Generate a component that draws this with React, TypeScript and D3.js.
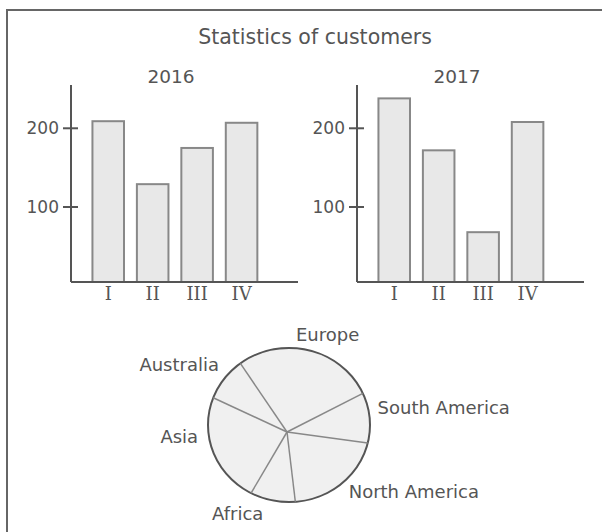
import React from "react";
import * as d3 from "d3";

const title = "Statistics of customers";
const quarters = ["I", "II", "III", "IV"];
const years = ["2016", "2017"];
const values2016 = [209, 129, 175, 207];
const values2017 = [238, 172, 68, 208];
const yTicks = [100, 200];
const regions = ["Europe", "South America", "North America", "Africa", "Asia", "Australia"];
const regionShares = [28.5, 10.5, 20, 9, 23, 9];

const W = 602;
const H = 532;
const TEXT = "#555";
const SANS = "'DejaVu Sans', Verdana, sans-serif";
const SERIF = "'DejaVu Serif', serif";

// label nudges (styling only)
const LABEL_NUDGE: Record<string, [number, number]> = {
  Europe: [15, 4],
  "South America": [-6, -7],
  "North America": [-2, -8],
  Africa: [-32, -6],
  Asia: [-2, -19],
  Australia: [6, 1],
};

function BarPanel({ x0, yearLabel, values }: { x0: number; yearLabel: string; values: number[] }) {
  const baseY = 282;
  const y = d3.scaleLinear().domain([0, 255]).range([285.7, 85]);
  const x = d3
    .scaleBand<string>()
    .domain(quarters)
    .range([x0 + 15, x0 + 15 + 177.8])
    .paddingInner(0.29)
    .paddingOuter(0.145);
  return (
    <g>
      <text x={x0 + 100} y={83} textAnchor="middle" fontFamily={SANS} fontSize={18.5} fill={TEXT}>
        {yearLabel}
      </text>
      {values.map((v, i) => (
        <rect
          key={i}
          x={x(quarters[i])!}
          y={y(v)}
          width={x.bandwidth()}
          height={baseY - y(v)}
          fill="#e8e8e8"
          stroke="#888"
          strokeWidth={2}
        />
      ))}
      <line x1={x0} x2={x0} y1={y(255)} y2={baseY} stroke="#555" strokeWidth={2} />
      <line x1={x0} x2={x0 + 227} y1={baseY} y2={baseY} stroke="#555" strokeWidth={2} />
      {yTicks.map((t) => (
        <g key={t}>
          <line x1={x0 - 8} x2={x0 + 7} y1={y(t)} y2={y(t)} stroke="#555" strokeWidth={2} />
          <text x={x0 - 12} y={y(t) + 6} textAnchor="end" fontFamily={SANS} fontSize={17} fill={TEXT}>
            {t}
          </text>
        </g>
      ))}
      {quarters.map((q) => (
        <text
          key={q}
          x={x(q)! + x.bandwidth() / 2}
          y={300}
          textAnchor="middle"
          fontFamily={SERIF}
          fontSize={18}
          fill={TEXT}
        >
          {q}
        </text>
      ))}
    </g>
  );
}

function PiePanel() {
  const cx = 289;
  const cy = 425;
  const rx = 81;
  const ry = 77;
  const hub: [number, number] = [287, 432];
  const startDeg = -36.9;
  const pie = d3
    .pie<number>()
    .sort(null)
    .startAngle((startDeg * Math.PI) / 180)
    .endAngle(((startDeg + 360) * Math.PI) / 180);
  const arcs = pie(regionShares);
  const rim = (a: number, ex = 0, ey = 0): [number, number] => [
    cx + (rx + ex) * Math.sin(a),
    cy - (ry + ey) * Math.cos(a),
  ];
  return (
    <g>
      <ellipse cx={cx} cy={cy} rx={rx} ry={ry} fill="#f0f0f0" stroke="#555" strokeWidth={2} />
      {arcs.map((a, i) => {
        const [px, py] = rim(a.startAngle);
        return <line key={i} x1={hub[0]} y1={hub[1]} x2={px} y2={py} stroke="#888" strokeWidth={1.5} />;
      })}
      {arcs.map((a, i) => {
        const mid = (a.startAngle + a.endAngle) / 2;
        const [lx, ly] = rim(mid, 14, 14);
        const s = Math.sin(mid);
        const anchor = s > 0.3 ? "start" : s < -0.3 ? "end" : "middle";
        const c = Math.cos(mid);
        const dy = c > 0.5 ? 0 : c < -0.5 ? 12 : 5;
        const [nx, ny] = LABEL_NUDGE[regions[i]] || [0, 0];
        return (
          <text
            key={regions[i]}
            x={lx + nx}
            y={ly + dy + ny}
            textAnchor={anchor}
            fontFamily={SANS}
            fontSize={18}
            fill={TEXT}
          >
            {regions[i]}
          </text>
        );
      })}
    </g>
  );
}

export default function App() {
  return (
    <svg
      width={W}
      height={H}
      style={{ position: "absolute", left: 0, top: 0, background: "#fff" }}
    >
      <rect x={7} y={10} width={640} height={560} fill="#fff" stroke="#666" strokeWidth={2} />
      <text x={315} y={44} textAnchor="middle" fontFamily={SANS} fontSize={20.5} fill={TEXT}>
        {title}
      </text>
      <BarPanel x0={71} yearLabel={years[0]} values={values2016} />
      <BarPanel x0={357} yearLabel={years[1]} values={values2017} />
      <PiePanel />
    </svg>
  );
}
